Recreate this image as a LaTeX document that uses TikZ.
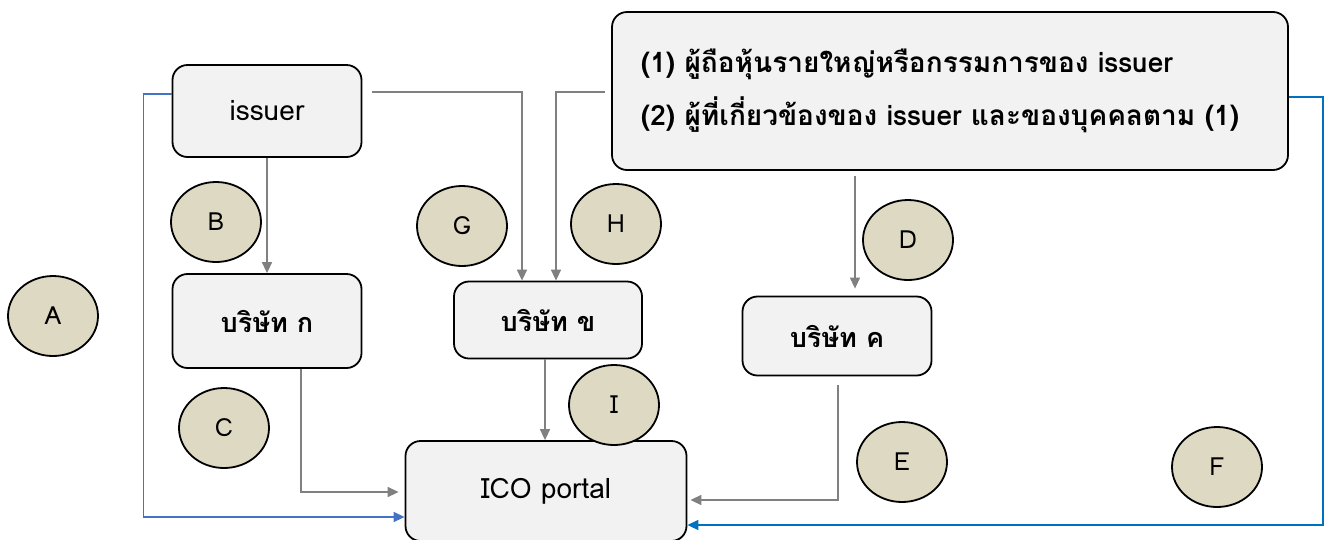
\documentclass[tikz,border=0pt]{standalone}
\usepackage{fontspec}
\setmainfont[Script=Thai]{Loma}
\usetikzlibrary{arrows.meta,shapes.geometric}
\definecolor{boxfill}{RGB}{242,242,242}
\definecolor{circfill}{RGB}{221,217,195}
\definecolor{lgray}{RGB}{128,128,128}
\definecolor{blueA}{RGB}{68,114,196}
\definecolor{blueF}{RGB}{0,112,192}
\tikzset{
  box/.style={draw=black, line width=1.8pt, fill=boxfill, rounded corners=15pt, inner sep=0pt, font=\fontsize{28}{32}\selectfont},
  tbox/.style={box, font=\fontsize{27}{32}\selectfont\bfseries},
  circ/.style={ellipse, draw=black, line width=1.8pt, fill=circfill, inner sep=0pt, minimum width=90pt, minimum height=80pt, font=\fontsize{25}{28}\selectfont},
  garrow/.style={draw=lgray, line width=1.5pt, -{Triangle[length=11pt,width=10pt]}},
  barrowA/.style={draw=blueA, line width=1.5pt, -{Triangle[length=11pt,width=10pt]}},
  barrowF/.style={draw=blueF, line width=1.5pt, -{Triangle[length=11pt,width=10pt]}}
}
\begin{document}
\begin{tikzpicture}[x=1pt,y=-1pt]
\useasboundingbox (0,0) rectangle (1327,539);
\begin{scope}
\clip (0,0) rectangle (1327,539);
% boxes
\node[box, minimum width=189pt, minimum height=92pt] (issuer) at (267,111) {issuer};
\node[tbox, minimum width=189pt, minimum height=94pt] (ka) at (267,321) {บริษัท ก};
\node[tbox, minimum width=188pt, minimum height=77pt] (kha) at (548,320) {บริษัท ข};
\node[tbox, minimum width=189pt, minimum height=79pt] (kho) at (837,336) {บริษัท ค};
\node[box, minimum width=281pt, minimum height=100pt] (ico) at (546,491) {ICO portal};
\node[box, minimum width=676pt, minimum height=158pt, align=left, font=\fontsize{28}{53}\selectfont\bfseries] (big) at (950,91)
  {(1) ผู้ถือหุ้นรายใหญ่หรือกรรมการของ issuer\\(2) ผู้ที่เกี่ยวข้องของ issuer และของบุคคลตาม (1)\hspace*{20pt}};
% circles
\node[circ] (A) at (53,316) {A};
\node[circ] (B) at (216,222) {B};
\node[circ] (C) at (224,428) {C};
\node[circ] (G) at (462,226) {G};
\node[circ] (H) at (616,224) {H};
\node[circ] (D) at (908,240) {D};
\node[circ] (E) at (902,462) {E};
\node[circ] (F) at (1217,467) {F};
\node[circ] (I) at (614,405) {I};
% gray connectors
\draw[garrow] (issuer.south) -- (ka.north);
\draw[garrow, shorten <=10pt] ([yshift=19pt]issuer.east) -| ([xshift=-26pt]kha.north);
\draw[garrow, shorten <=6pt] ([yshift=-1pt]big.west) -| ([xshift=8pt]kha.north);
\draw[garrow, shorten <=5pt, shorten >=7pt] ([xshift=-95pt]big.south) -- ([xshift=-95pt]big.south |- kho.north);
\draw[garrow] ([xshift=34pt]ka.south) |- ([xshift=-6pt,yshift=-1pt]ico.west);
\draw[garrow] ([xshift=-3pt]kha.south) -- ([xshift=-3pt]kha.south |- ico.north);
\draw[garrow, shorten <=9pt] ([xshift=1pt]kho.south) |- ([xshift=3pt,yshift=-9pt]ico.east);
% blue connectors
\draw[barrowA] ([yshift=17pt]issuer.west) -- ++(-28,0) |- ([yshift=-26pt]ico.west);
\draw[barrowF] ([yshift=-6pt]big.east) -- ++(34,0) |- ([yshift=-34pt]ico.east);
\end{scope}
\end{tikzpicture}
\end{document}
